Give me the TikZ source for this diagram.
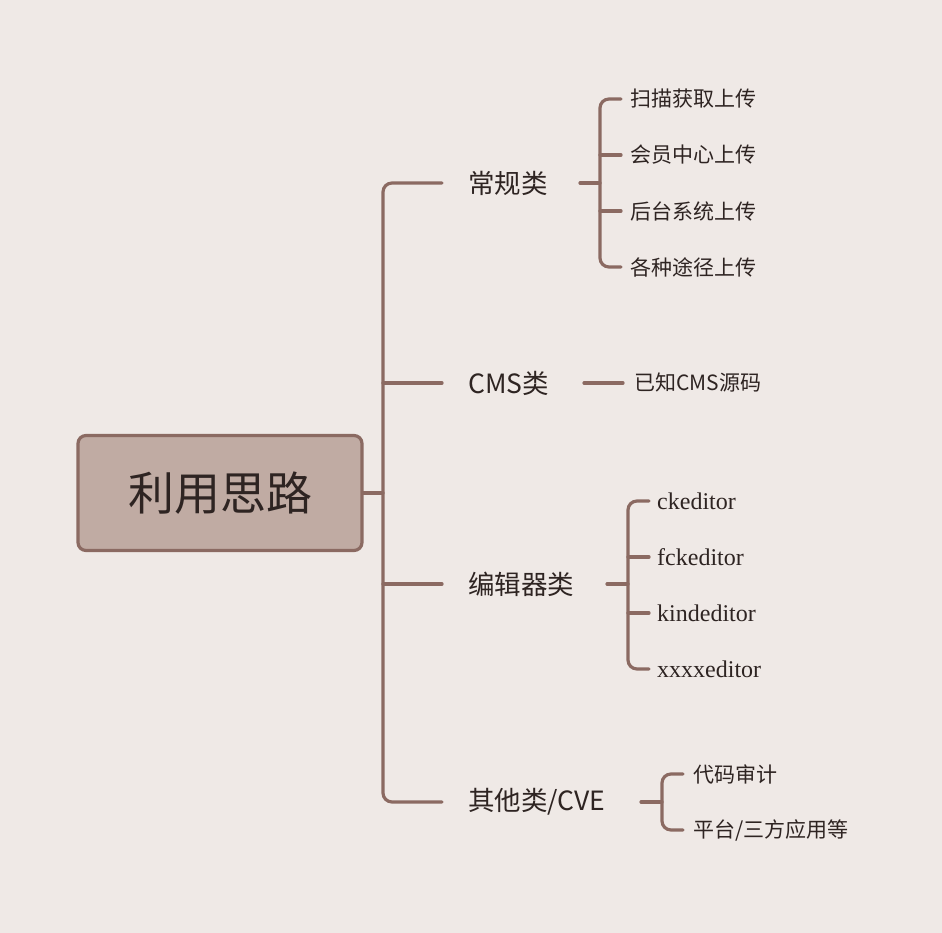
\documentclass[tikz,border=0pt]{standalone}
\usepackage{fontspec}
\newfontfamily\cjk{Noto Sans CJK SC}
\newfontfamily\lser{Liberation Serif}
\definecolor{bg}{HTML}{EFE9E6}
\definecolor{ln}{HTML}{8B6A62}
\definecolor{rootfill}{HTML}{C0ABA3}
\definecolor{tx}{HTML}{2E2422}
\begin{document}
\begin{tikzpicture}[x=1pt,y=-1pt,
  conn/.style={draw=ln,line width=3.2pt,rounded corners=9pt,line cap=round},
  br/.style={anchor=west,font=\cjk\fontsize{26.5}{30}\selectfont,text=tx,inner sep=0pt},
  lf/.style={anchor=west,font=\cjk\fontsize{21}{24}\selectfont,text=tx,inner sep=0pt},
  lfs/.style={anchor=west,font=\lser\fontsize{24}{27}\selectfont,text=tx,inner sep=0pt}]
\fill[bg] (0,0) rectangle (942,933);
\useasboundingbox (0,0) rectangle (942,933);
\node[draw=ln,line width=3.2pt,fill=rootfill,rounded corners=8pt,minimum width=284pt,minimum height=115pt,
  font=\cjk\fontsize{46}{52}\selectfont,text=tx] (root) at (220,493) {利用思路};
% trunk
\coordinate (t) at (383,493);
\draw[conn] (root.east) -- (t);
\node[br] (b1) at (468,183) {常规类};
\node[br] (b2) at (468,383) {CMS类};
\node[br] (b3) at (468,584) {编辑器类};
\node[br] (b4) at (468,802) {其他类/CVE};
\draw[conn] (442,183) -- (383,183) -- (383,802) -- (442,802);
\draw[conn] (383,383) -- (442,383);
\draw[conn] (383,584) -- (442,584);
% group 1
\node[lf] (l11) at (630,99) {扫描获取上传};
\node[lf] (l12) at (630,155) {会员中心上传};
\node[lf] (l13) at (630,211) {后台系统上传};
\node[lf] (l14) at (630,267) {各种途径上传};
\draw[conn] (580,183) -- (600,183);
\draw[conn] (621,99) -- (600,99) -- (600,267) -- (621,267);
\draw[conn] (600,155) -- (621,155);
\draw[conn] (600,211) -- (621,211);
% group 2
\node[lf] (l21) at (634,383) {已知CMS源码};
\draw[conn] (584,383) -- (623,383);
% group 3
\node[lfs] (l31) at (657,501) {ckeditor};
\node[lfs] (l32) at (657,557) {fckeditor};
\node[lfs] (l33) at (657,613) {kindeditor};
\node[lfs] (l34) at (657,669) {xxxxeditor};
\draw[conn] (607,584) -- (628,584);
\draw[conn] (649,501) -- (628,501) -- (628,669) -- (649,669);
\draw[conn] (628,557) -- (649,557);
\draw[conn] (628,613) -- (649,613);
% group 4
\node[lf] (l41) at (693,774) {代码审计};
\node[lf] (l42) at (693,830) {平台/三方应用等};
\draw[conn] (641,802) -- (662,802);
\draw[conn] (683,774) -- (662,774) -- (662,830) -- (683,830);
\end{tikzpicture}
\end{document}
